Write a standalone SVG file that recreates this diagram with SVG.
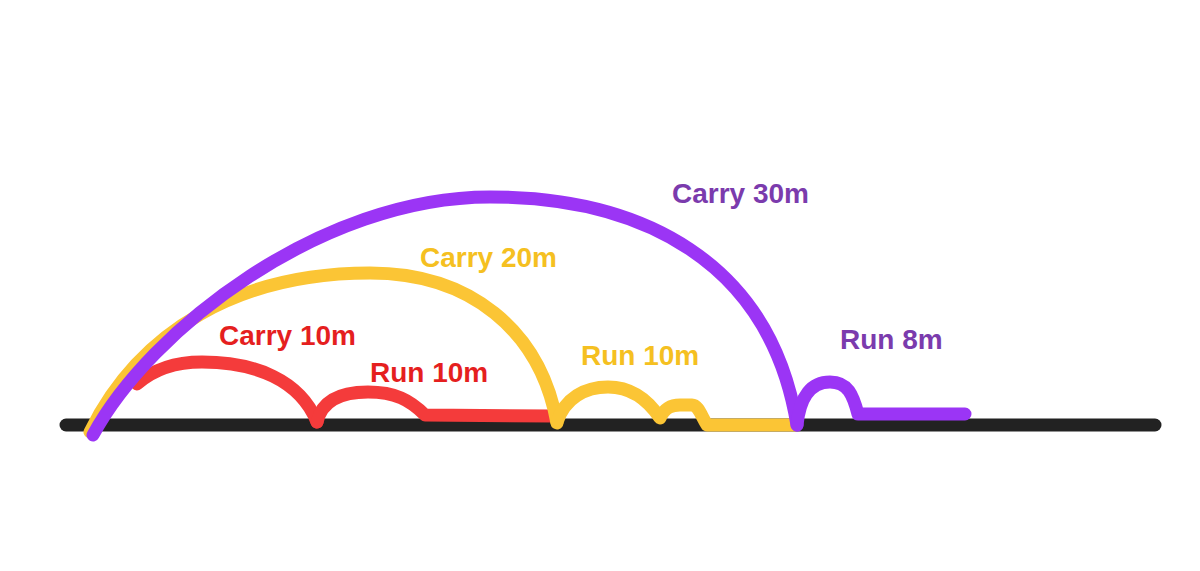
<svg xmlns="http://www.w3.org/2000/svg" width="1200" height="571" viewBox="0 0 1200 571">
<style>
.ln{fill:none;stroke-width:13;stroke-linecap:round;stroke-linejoin:round}
.lbl{font-family:"Liberation Sans",Arial,sans-serif;font-weight:700;font-size:28px}
</style>
<rect width="1200" height="571" fill="#ffffff"/>
<g id="connectors">
<path id="ground" class="ln" stroke="#222222" d="M66,425 L1155,425"/>
<path id="red-carry" class="ln" stroke="#F43B3B" d="M137,384 C155,368 178,362 202,362 C255,362 300,380 317,422"/>
<path id="red-run" class="ln" stroke="#F43B3B" d="M317,422 C322,400 342,392 368,392 C395,392 410,400 425,415 L553,416"/>
<path id="yellow-carry" class="ln" stroke="#FBC535" d="M90,432 C140,330 240,273 370,273 C470,273 540,330 557,423"/>
<path id="yellow-run" class="ln" stroke="#FBC535" d="M557,422 C565,398 585,387 608,387 C632,387 648,400 660,418 C665,407 672,405 680,405 L692,405 C698,405 701,415 707,425 L795,425"/>
<path id="purple-carry" class="ln" stroke="#9B35F5" d="M93,435 C150,330 320,197 490,197 C640,197 770,260 797,425"/>
<path id="purple-run" class="ln" stroke="#9B35F5" d="M797,425 C800,395 812,382 830,382 C848,382 853,395 858,414 L965,414"/>
</g>
<g id="label-carry30"><text class="lbl" x="672" y="203" fill="#7B3BAD">Carry 30m</text></g>
<g id="label-carry20"><text class="lbl" x="420" y="267" fill="#F5C021">Carry 20m</text></g>
<g id="label-carry10"><text class="lbl" x="219" y="345" fill="#E51F1F">Carry 10m</text></g>
<g id="label-run10-red"><text class="lbl" x="370" y="382" fill="#E51F1F">Run 10m</text></g>
<g id="label-run10-yellow"><text class="lbl" x="581" y="365" fill="#F5C021">Run 10m</text></g>
<g id="label-run8"><text class="lbl" x="840" y="349" fill="#7B3BAD">Run 8m</text></g>
</svg>
